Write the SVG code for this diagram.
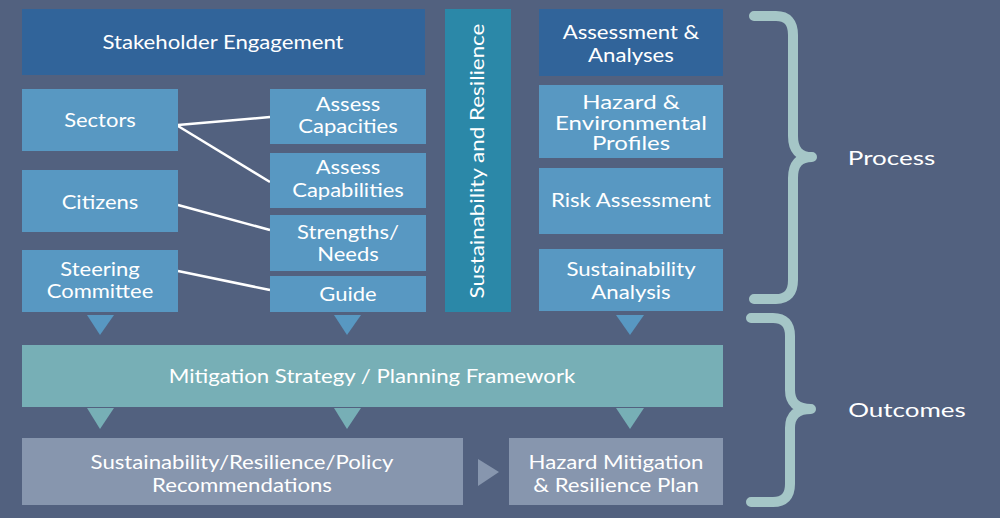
<svg xmlns="http://www.w3.org/2000/svg" width="1000" height="518" viewBox="0 0 1000 518">
<style>
text{font-family:Lato,"Noto Sans","Liberation Sans",sans-serif;fill:#fff;text-anchor:middle;font-size:20px}
.dk{fill:#31649a}.lt{fill:#5898c2}.tl{fill:#2b88a8}.mg{fill:#77afb6}.bt{fill:#8796ae}
.ln{stroke:#fff;stroke-width:2.5;fill:none}
.br{stroke:#a5c6c7;stroke-width:10;fill:none;stroke-linecap:round;stroke-linejoin:round}
</style>
<rect width="1000" height="518" fill="#52617f"/>
<g id="connectors">
<line class="ln" x1="178" y1="125" x2="270" y2="117"/>
<line class="ln" x1="178" y1="126" x2="270" y2="182"/>
<line class="ln" x1="178" y1="205" x2="270" y2="230"/>
<line class="ln" x1="178" y1="271" x2="270" y2="290"/>
<polygon fill="#5898c2" points="87,315 114,315 100,335"/>
<polygon fill="#5898c2" points="334,315 361,315 347,335"/>
<polygon fill="#5898c2" points="616,315 644,315 630,335"/>
<polygon fill="#77afb6" points="87,408 114,408 100,429"/>
<polygon fill="#77afb6" points="334,408 361,408 347,429"/>
<polygon fill="#77afb6" points="616,408 644,408 630,429"/>
<polygon fill="#8796ae" points="478,459 499,472 478,486"/>
</g>
<g id="stakeholder"><rect class="dk" x="22" y="9" width="403" height="66"/><text transform="matrix(1.11,0,0,1,223,0)" x="0" y="49" font-size="22">Stakeholder Engagement</text></g>
<g id="sectors"><rect class="lt" x="22" y="89" width="156" height="62"/><text transform="matrix(1.1,0,0,1,100,0)" x="0" y="127" font-size="21">Sectors</text></g>
<g id="citizens"><rect class="lt" x="22" y="170" width="156" height="62"/><text transform="matrix(1.1,0,0,1,100,0)" x="0" y="209" font-size="21">Citizens</text></g>
<g id="steering"><rect class="lt" x="22" y="250" width="156" height="62"/><text transform="matrix(1.1,0,0,1,100,0)" font-size="21"><tspan x="0" y="276">Steering</tspan><tspan x="0" y="298">Committee</tspan></text></g>
<g id="capacities"><rect class="lt" x="270" y="89" width="156" height="55"/><text transform="matrix(1.1,0,0,1,348,0)" font-size="21"><tspan x="0" y="111">Assess</tspan><tspan x="0" y="133">Capacities</tspan></text></g>
<g id="capabilities"><rect class="lt" x="270" y="153" width="156" height="55"/><text transform="matrix(1.1,0,0,1,348,0)" font-size="21"><tspan x="0" y="174">Assess</tspan><tspan x="0" y="197">Capabilities</tspan></text></g>
<g id="strengths"><rect class="lt" x="270" y="215" width="156" height="56"/><text transform="matrix(1.1,0,0,1,348,0)" font-size="21"><tspan x="0" y="239">Strengths/</tspan><tspan x="0" y="261">Needs</tspan></text></g>
<g id="guide"><rect class="lt" x="270" y="276" width="156" height="36"/><text transform="matrix(1.1,0,0,1,348,0)" x="0" y="301" font-size="21">Guide</text></g>
<g id="sustres"><rect class="tl" x="445" y="9" width="66" height="303"/><text transform="translate(484,161) rotate(-90) scale(1.12,1)" x="0" y="0" font-size="21">Sustainability and Resilience</text></g>
<g id="assessment"><rect class="dk" x="539" y="9" width="184" height="67"/><text transform="matrix(1.11,0,0,1,631,0)"><tspan x="0" y="39">Assessment &amp;</tspan><tspan x="0" y="62">Analyses</tspan></text></g>
<g id="hazard"><rect class="lt" x="539" y="85" width="184" height="73"/><text transform="matrix(1.2,0,0,1,631,0)" font-size="18"><tspan x="0" y="109">Hazard &amp;</tspan><tspan x="0" y="130">Environmental</tspan><tspan x="0" y="150">Profiles</tspan></text></g>
<g id="risk"><rect class="lt" x="539" y="168" width="184" height="66"/><text transform="matrix(1.11,0,0,1,631,0)" x="0" y="207">Risk Assessment</text></g>
<g id="sustanalysis"><rect class="lt" x="539" y="249" width="184" height="62"/><text transform="matrix(1.11,0,0,1,631,0)"><tspan x="0" y="276">Sustainability</tspan><tspan x="0" y="299">Analysis</tspan></text></g>
<g id="mitigation"><rect class="mg" x="22" y="345" width="701" height="62"/><text transform="matrix(1.11,0,0,1,372,0)" x="0" y="383">Mitigation Strategy / Planning Framework</text></g>
<g id="recommendations"><rect class="bt" x="22" y="438" width="441" height="67"/><text transform="matrix(1.11,0,0,1,242,0)"><tspan x="0" y="469">Sustainability/Resilience/Policy</tspan><tspan x="0" y="492">Recommendations</tspan></text></g>
<g id="plan"><rect class="bt" x="509" y="438" width="214" height="67"/><text transform="matrix(1.11,0,0,1,616,0)"><tspan x="0" y="469">Hazard Mitigation</tspan><tspan x="0" y="492">&amp; Resilience Plan</tspan></text></g>
<g id="process-brace"><path class="br" d="M754,16 H776 Q793,16 793,35 V136 Q793,157 812,157 Q793,157 793,178 V280 Q793,299 776,299 H754"/><text transform="matrix(1.3,0,0,1,891.5,0)" x="0" y="165" font-size="25">Process</text></g>
<g id="outcomes-brace"><path class="br" d="M751,318 H773 Q790,318 790,336 V390 Q790,409 811,409 Q790,409 790,428 V484 Q790,502 773,502 H751"/><text transform="matrix(1.3,0,0,1,907,0)" x="0" y="417" font-size="25">Outcomes</text></g>
</svg>
